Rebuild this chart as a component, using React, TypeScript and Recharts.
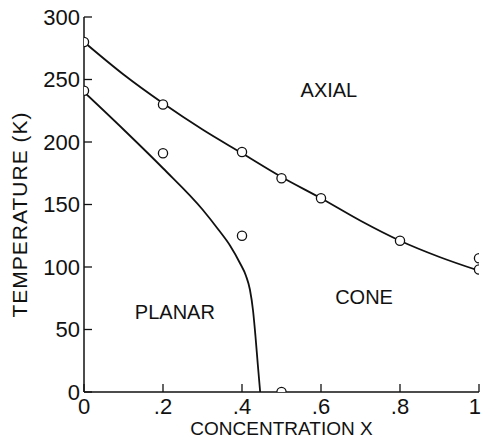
import React from 'react';
import {
  ComposedChart,
  Line,
  Scatter,
  XAxis,
  YAxis,
  ReferenceDot,
  Label,
} from 'recharts';

// phase boundary curves (concentration x, temperature K)
const axialBoundary = [
  { x: 0, t: 280 },
  { x: 0.1, t: 254 },
  { x: 0.2, t: 231 },
  { x: 0.3, t: 210 },
  { x: 0.4, t: 191 },
  { x: 0.5, t: 172 },
  { x: 0.6, t: 155 },
  { x: 0.7, t: 137 },
  { x: 0.8, t: 121 },
  { x: 0.9, t: 108 },
  { x: 1, t: 97 },
];

const planarBoundary = [
  { x: 0, t: 240 },
  { x: 0.1, t: 210 },
  { x: 0.2, t: 179 },
  { x: 0.3, t: 146 },
  { x: 0.34, t: 130 },
  { x: 0.37, t: 117 },
  { x: 0.395, t: 103 },
  { x: 0.41, t: 93 },
  { x: 0.42, t: 82 },
  { x: 0.428, t: 65 },
  { x: 0.434, t: 45 },
  { x: 0.44, t: 22 },
  { x: 0.446, t: 0 },
];

// measured points
const axialPoints = [
  { x: 0, t: 280 },
  { x: 0.2, t: 230 },
  { x: 0.4, t: 192 },
  { x: 0.5, t: 171 },
  { x: 0.6, t: 155 },
  { x: 0.8, t: 121 },
  { x: 1, t: 107 },
  { x: 1, t: 98 },
];

const planarPoints = [
  { x: 0, t: 241 },
  { x: 0.2, t: 191 },
  { x: 0.4, t: 125 },
  { x: 0.5, t: 0 },
];

const xTicks = [0, 0.2, 0.4, 0.6, 0.8, 1];
const yTicks = [0, 50, 100, 150, 200, 250, 300];

const regionLabels = [
  { x: 0.62, t: 242, text: 'AXIAL' },
  { x: 0.709, t: 76, text: 'CONE' },
  { x: 0.23, t: 64, text: 'PLANAR' },
];

const FONT = '"Liberation Sans", Arial, sans-serif';
const INK = '#111';
const TICK_LEN = 8;

const fmtX = (v: number) => (v === 0 ? '0' : v === 1 ? '1' : String(v).replace(/^0/, ''));

const BottomTick = (props: any) => {
  const { x, y, payload } = props;
  const last = payload.value === 1;
  return (
    <g>
      <line x1={x} x2={x} y1={y - 6} y2={y - 6 - TICK_LEN} stroke={INK} strokeWidth={1.3} />
      <text
        x={last ? x + 2 : x}
        y={y}
        dy="0.71em"
        textAnchor={last ? 'end' : 'middle'}
        fontFamily={FONT}
        fontSize={22}
        fill={INK}
      >
        {fmtX(payload.value)}
      </text>
    </g>
  );
};

const LeftTick = (props: any) => {
  const { x, y, payload } = props;
  return (
    <g>
      <line x1={x + 4} x2={x + 4 + TICK_LEN} y1={y} y2={y} stroke={INK} strokeWidth={1.3} />
      <text x={x} y={y} dy="0.355em" textAnchor="end" fontFamily={FONT} fontSize={22} fill={INK}>
        {payload.value}
      </text>
    </g>
  );
};

const TopTick = (props: any) => {
  const { x, y } = props;
  return <line x1={x} x2={x} y1={y} y2={y + TICK_LEN} stroke={INK} strokeWidth={1.3} />;
};

const RightTick = (props: any) => {
  const { x, y } = props;
  return <line x1={x} x2={x - TICK_LEN} y1={y} y2={y} stroke={INK} strokeWidth={1.3} />;
};

const OpenCircle = (props: any) => (
  <circle cx={props.cx} cy={props.cy} r={4.6} fill="#fff" stroke={INK} strokeWidth={1.3} />
);

const App: React.FC = () => {
  return (
    <div style={{ position: 'absolute', left: 0, top: 0, background: '#fff' }}>
      <ComposedChart
        width={481}
        height={438}
        margin={{ top: 17, right: 2, bottom: 0, left: 0 }}
      >
        <XAxis
          xAxisId={0}
          type="number"
          dataKey="x"
          domain={[0, 1]}
          ticks={xTicks}
          allowDataOverflow
          height={46}
          tickSize={0}
          tickMargin={6}
          tick={<BottomTick />}
          axisLine={{ stroke: INK, strokeWidth: 1.5 }}
          interval={0}
        >
          <Label
            value="CONCENTRATION X"
            position="insideBottom"
            offset={3}
            style={{ fontFamily: FONT, fontSize: 19, fill: INK }}
          />
        </XAxis>
        <XAxis
          xAxisId="top"
          orientation="top"
          type="number"
          domain={[0, 1]}
          ticks={xTicks}
          height={0}
          tickSize={0}
          tickMargin={0}
          tick={<TopTick />}
          axisLine={{ stroke: INK, strokeWidth: 1.5 }}
          interval={0}
        />
        <YAxis
          yAxisId={0}
          type="number"
          dataKey="t"
          domain={[0, 300]}
          ticks={yTicks}
          allowDataOverflow
          width={84}
          tickSize={0}
          tickMargin={4}
          tick={<LeftTick />}
          axisLine={{ stroke: INK, strokeWidth: 1.5 }}
          interval={0}
        >
          <Label
            content={(p: any) => {
              const vb = p.viewBox || { x: 0, y: 17, width: 84, height: 375 };
              const cx = vb.x + 19;
              const cy = vb.y + vb.height / 2 + 10;
              return (
                <text
                  x={cx}
                  y={cy}
                  transform={`rotate(-90 ${cx} ${cy})`}
                  textAnchor="middle"
                  dominantBaseline="central"
                  fontFamily={FONT}
                  fontSize={21}
                  letterSpacing={1}
                  fill={INK}
                >
                  TEMPERATURE (K)
                </text>
              );
            }}
          />
        </YAxis>
        <YAxis
          yAxisId="right"
          orientation="right"
          type="number"
          domain={[0, 300]}
          ticks={yTicks}
          width={0}
          tickSize={0}
          tickMargin={0}
          tick={<RightTick />}
          axisLine={{ stroke: INK, strokeWidth: 1.5 }}
          interval={0}
        />

        <Line
          data={axialBoundary}
          dataKey="t"
          type="monotone"
          stroke={INK}
          strokeWidth={1.8}
          dot={false}
          activeDot={false}
          isAnimationActive={false}
        />
        <Line
          data={planarBoundary}
          dataKey="t"
          type="monotone"
          stroke={INK}
          strokeWidth={1.8}
          dot={false}
          activeDot={false}
          isAnimationActive={false}
        />
        <Scatter data={axialPoints} dataKey="t" shape={<OpenCircle />} isAnimationActive={false} />
        <Scatter data={planarPoints} dataKey="t" shape={<OpenCircle />} isAnimationActive={false} />

        {regionLabels.map((r) => (
          <ReferenceDot
            key={r.text}
            x={r.x}
            y={r.t}
            r={0}
            stroke="none"
            fill="none"
            label={{
              value: r.text,
              position: 'center',
              style: { fontFamily: FONT, fontSize: 20, fill: INK },
            }}
          />
        ))}
      </ComposedChart>
    </div>
  );
};

export default App;
